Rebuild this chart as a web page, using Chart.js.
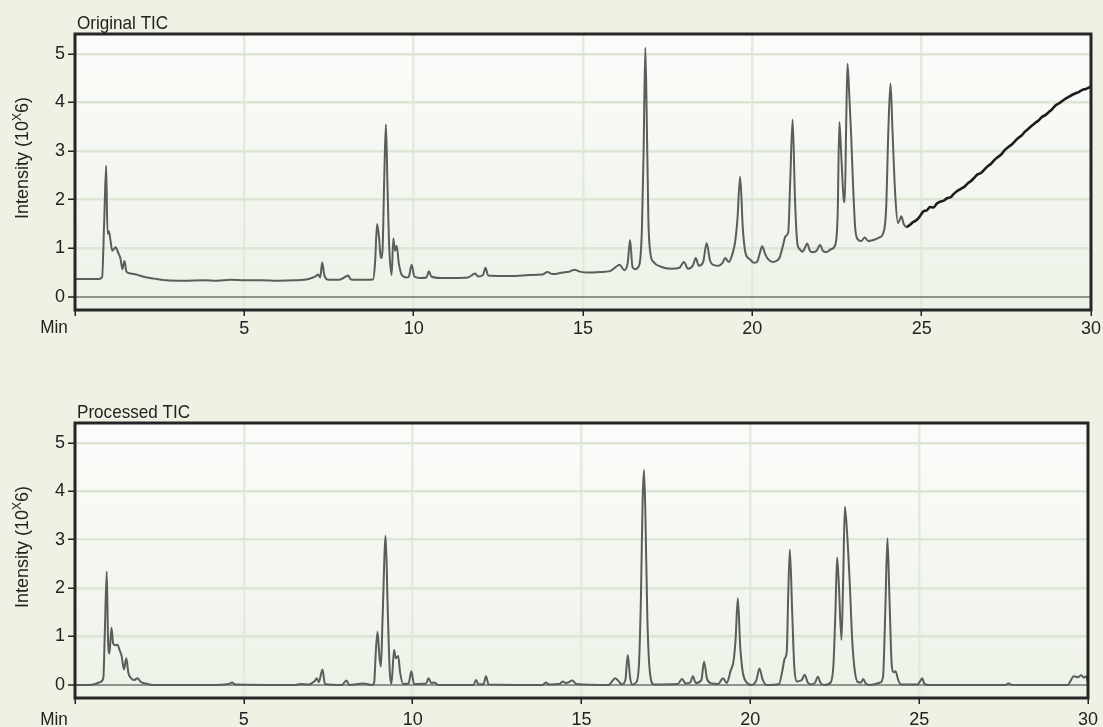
<!DOCTYPE html>
<html>
<head>
<meta charset="utf-8">
<script src="https://cdn.jsdelivr.net/npm/chart.js@4.4.1/dist/chart.umd.min.js"></script>
<style>
  html, body { margin: 0; padding: 0; background: #edf2e5; }
  body { width: 1103px; height: 727px; position: relative; overflow: hidden; }
  canvas { position: absolute; left: 0; display: block; }
  #orig { top: 0; }
  #proc { top: 390px; }
</style>
</head>
<body>
<canvas id="orig" width="1103" height="360"></canvas>
<canvas id="proc" width="1103" height="337"></canvas>
<script>
// Retention time (min) and total ion current (x10^6) of the raw run
const origTimes = [
  0.00, 0.40, 0.70, 0.80, 0.86, 0.92, 0.96, 1.00, 1.04, 1.10, 1.20, 1.28, 1.34, 1.40, 1.46, 1.52,
  1.65, 1.80, 2.00, 2.30, 2.70, 3.20, 3.80, 4.20, 4.60, 5.00, 5.50, 6.00, 6.50, 6.90, 7.10, 7.18,
  7.24, 7.30, 7.36, 7.45, 7.80, 8.00, 8.06, 8.15, 8.50, 8.80, 8.86, 8.92, 8.98, 9.03, 9.08, 9.13,
  9.18, 9.23, 9.28, 9.35, 9.40, 9.45, 9.50, 9.56, 9.65, 9.80, 9.86, 9.94, 10.02, 10.20, 10.38, 10.45,
  10.52, 10.80, 11.20, 11.60, 11.82, 11.90, 12.05, 12.12, 12.20, 12.60, 13.00, 13.40, 13.80, 13.95, 14.10, 14.40,
  14.60, 14.75, 14.90, 15.20, 15.50, 15.80, 16.00, 16.08, 16.22, 16.32, 16.39, 16.46, 16.54, 16.66, 16.74, 16.79,
  16.84, 16.88, 16.93, 16.99, 17.08, 17.30, 17.60, 17.85, 17.98, 18.10, 18.25, 18.33, 18.42, 18.55, 18.65, 18.75,
  18.85, 19.00, 19.12, 19.20, 19.30, 19.42, 19.50, 19.56, 19.64, 19.72, 19.80, 19.92, 20.05, 20.14, 20.22, 20.29,
  20.38, 20.46, 20.60, 20.80, 20.92, 20.98, 21.06, 21.12, 21.19, 21.26, 21.33, 21.40, 21.48, 21.56, 21.62, 21.70,
  21.78, 21.90, 22.00, 22.08, 22.18, 22.32, 22.45, 22.52, 22.57, 22.62, 22.70, 22.73, 22.77, 22.81, 22.86, 22.92,
  22.98, 23.04, 23.12, 23.22, 23.32, 23.42, 23.52, 23.62, 23.74, 23.86, 23.95, 24.02, 24.08, 24.14, 24.22, 24.30,
  24.36, 24.40, 24.47, 24.55, 24.65, 24.75, 24.85, 24.95, 25.05, 25.15, 25.25, 25.35, 25.45, 25.55, 25.65, 25.75,
  25.85, 25.95, 26.05, 26.15, 26.25, 26.35, 26.45, 26.55, 26.65, 26.75, 26.85, 26.95, 27.05, 27.15, 27.25, 27.35,
  27.45, 27.55, 27.65, 27.75, 27.85, 27.95, 28.05, 28.15, 28.25, 28.35, 28.45, 28.55, 28.65, 28.75, 28.85, 28.95,
  29.05, 29.15, 29.25, 29.35, 29.45, 29.55, 29.65, 29.75, 29.85, 29.95, 30.00
];
const origIntensity = [
  0.37, 0.37, 0.37, 0.40, 1.50, 2.70, 1.30, 1.35, 1.20, 0.95, 1.02, 0.90, 0.80, 0.57, 0.74, 0.52,
  0.48, 0.46, 0.42, 0.38, 0.34, 0.33, 0.34, 0.33, 0.35, 0.34, 0.34, 0.33, 0.34, 0.37, 0.42, 0.46,
  0.40, 0.71, 0.45, 0.36, 0.35, 0.42, 0.44, 0.36, 0.35, 0.36, 0.70, 1.50, 1.20, 0.80, 0.95, 2.40,
  3.55, 2.20, 1.00, 0.45, 1.20, 0.95, 1.05, 0.70, 0.45, 0.40, 0.42, 0.66, 0.42, 0.39, 0.40, 0.53,
  0.42, 0.39, 0.39, 0.40, 0.48, 0.42, 0.45, 0.60, 0.44, 0.43, 0.43, 0.45, 0.46, 0.51, 0.47, 0.50,
  0.52, 0.56, 0.52, 0.50, 0.51, 0.53, 0.63, 0.66, 0.55, 0.70, 1.17, 0.62, 0.57, 0.65, 1.40, 3.00,
  5.13, 3.80, 1.60, 0.90, 0.72, 0.62, 0.58, 0.60, 0.72, 0.58, 0.65, 0.80, 0.64, 0.72, 1.11, 0.75,
  0.66, 0.64, 0.70, 0.80, 0.72, 0.90, 1.17, 1.60, 2.47, 1.40, 0.90, 0.78, 0.70, 0.72, 0.90, 1.04,
  0.88, 0.78, 0.72, 0.80, 1.10, 1.25, 1.33, 2.40, 3.65, 2.00, 1.10, 0.98, 0.93, 1.02, 1.10, 0.95,
  0.92, 0.95, 1.07, 0.95, 0.92, 0.98, 1.07, 1.70, 3.60, 3.00, 2.00, 1.95, 3.50, 4.80, 4.20, 3.30,
  2.20, 1.40, 1.18, 1.15, 1.22, 1.15, 1.16, 1.18, 1.22, 1.30, 1.80, 3.50, 4.39, 3.40, 2.10, 1.52,
  1.60, 1.66, 1.50, 1.44, 1.48, 1.54, 1.58, 1.66, 1.76, 1.78, 1.85, 1.84, 1.92, 1.96, 1.98, 2.03,
  2.05, 2.12, 2.18, 2.22, 2.26, 2.33, 2.38, 2.45, 2.52, 2.55, 2.62, 2.69, 2.74, 2.82, 2.88, 2.93,
  3.02, 3.08, 3.13, 3.20, 3.27, 3.32, 3.40, 3.46, 3.52, 3.58, 3.63, 3.70, 3.74, 3.80, 3.86, 3.94,
  3.98, 4.03, 4.08, 4.12, 4.16, 4.19, 4.22, 4.26, 4.28, 4.31, 4.33
];

// Same run after baseline correction and noise removal
const procTimes = [
  0.00, 0.40, 0.60, 0.75, 0.84, 0.88, 0.94, 0.98, 1.02, 1.08, 1.13, 1.20, 1.26, 1.32, 1.38, 1.45,
  1.52, 1.58, 1.66, 1.75, 1.85, 1.95, 2.10, 2.30, 4.00, 4.55, 4.65, 4.75, 6.50, 6.70, 6.90, 7.10,
  7.16, 7.22, 7.33, 7.40, 7.90, 8.04, 8.12, 8.54, 8.80, 8.86, 8.91, 8.96, 9.02, 9.06, 9.11, 9.20,
  9.26, 9.32, 9.37, 9.45, 9.50, 9.57, 9.63, 9.72, 9.88, 9.96, 10.04, 10.40, 10.47, 10.55, 10.65, 10.75,
  11.80, 11.88, 11.95, 12.10, 12.17, 12.25, 13.85, 13.94, 14.05, 14.35, 14.44, 14.55, 14.73, 14.85, 15.80, 16.00,
  16.12, 16.20, 16.30, 16.37, 16.44, 16.50, 16.62, 16.70, 16.76, 16.81, 16.85, 16.89, 16.95, 17.02, 17.14, 17.85,
  17.98, 18.08, 18.22, 18.30, 18.38, 18.55, 18.63, 18.72, 18.86, 19.05, 19.19, 19.30, 19.42, 19.50, 19.56, 19.63,
  19.70, 19.78, 19.88, 20.04, 20.18, 20.27, 20.36, 20.48, 20.85, 20.95, 21.02, 21.08, 21.12, 21.17, 21.24, 21.30,
  21.37, 21.52, 21.61, 21.70, 21.81, 21.92, 22.00, 22.08, 22.20, 22.38, 22.46, 22.52, 22.57, 22.62, 22.70, 22.75,
  22.80, 22.86, 22.94, 23.02, 23.09, 23.18, 23.28, 23.34, 23.42, 23.55, 23.85, 23.93, 24.00, 24.06, 24.12, 24.19,
  24.25, 24.30, 24.38, 24.47, 24.95, 25.05, 25.09, 25.15, 25.25, 27.55, 27.66, 27.75, 29.40, 29.48, 29.58, 29.70,
  29.80, 29.88, 29.95, 30.00
];
const procIntensity = [
  0.00, 0.00, 0.02, 0.06, 0.15, 1.00, 2.34, 0.90, 0.65, 1.18, 0.86, 0.82, 0.83, 0.72, 0.60, 0.32,
  0.55, 0.25, 0.14, 0.10, 0.14, 0.06, 0.03, 0.00, 0.00, 0.02, 0.05, 0.01, 0.00, 0.02, 0.01, 0.08,
  0.14, 0.06, 0.32, 0.02, 0.00, 0.09, 0.00, 0.03, 0.00, 0.05, 0.70, 1.10, 0.55, 0.38, 1.40, 3.08,
  1.60, 0.30, 0.02, 0.72, 0.55, 0.60, 0.25, 0.02, 0.03, 0.28, 0.02, 0.03, 0.14, 0.04, 0.05, 0.00,
  0.00, 0.10, 0.01, 0.02, 0.18, 0.01, 0.00, 0.05, 0.01, 0.02, 0.07, 0.04, 0.09, 0.02, 0.00, 0.14,
  0.06, 0.01, 0.10, 0.62, 0.15, 0.01, 0.05, 0.40, 1.80, 3.80, 4.44, 3.60, 1.40, 0.30, 0.01, 0.02,
  0.12, 0.03, 0.05, 0.18, 0.04, 0.10, 0.48, 0.12, 0.03, 0.02, 0.14, 0.04, 0.30, 0.48, 0.90, 1.79,
  0.80, 0.25, 0.06, 0.00, 0.10, 0.34, 0.12, 0.00, 0.02, 0.30, 0.55, 0.70, 1.80, 2.79, 1.50, 0.40,
  0.07, 0.10, 0.21, 0.05, 0.01, 0.05, 0.17, 0.04, 0.00, 0.05, 0.40, 1.50, 2.63, 2.10, 0.93, 2.20,
  3.68, 3.20, 2.17, 0.90, 0.31, 0.06, 0.05, 0.12, 0.03, 0.00, 0.05, 0.17, 1.60, 3.03, 1.80, 0.40,
  0.26, 0.28, 0.10, 0.01, 0.01, 0.10, 0.14, 0.03, 0.00, 0.00, 0.03, 0.00, 0.00, 0.08, 0.18, 0.16,
  0.20, 0.15, 0.18, 0.05
];

const xTickValues = [0, 5, 10, 15, 20, 25, 30];
const yTickValues = [0, 1, 2, 3, 4, 5];
const panelTitles = ['Original TIC', 'Processed TIC'];
const yAxisLabel = ['Intensity (10', 'X', '6)'];
const xUnitLabel = 'Min';

const FONT = "'Liberation Sans', Arial, sans-serif";
const INK = '#222';
const TRACE = '#5a5d59';
const RAMP_START = 24.55;
const NARROW = 0.9; // horizontal squeeze for the condensed label lettering

function toPoints(xs, ys) {
  return xs.map((x, i) => ({ x: x, y: ys[i] }));
}

// Plot background, frame and panel labels
const panelDecor = {
  id: 'panelDecor',
  beforeDraw(chart) {
    const { ctx, chartArea: a } = chart;
    const g = ctx.createLinearGradient(0, a.top, 0, a.bottom);
    g.addColorStop(0, '#fbfcfa');
    g.addColorStop(1, '#edf2e8');
    ctx.save();
    ctx.fillStyle = g;
    ctx.fillRect(a.left, a.top, a.right - a.left, a.bottom - a.top);
    ctx.restore();
  },
  afterDraw(chart, args, opts) {
    const { ctx, chartArea: a } = chart;
    ctx.save();
    // frame
    ctx.strokeStyle = '#262626';
    ctx.lineWidth = 3;
    ctx.strokeRect(a.left, a.top, a.right - a.left, a.bottom - a.top);
    ctx.restore();

    // panel title
    ctx.save();
    ctx.fillStyle = INK;
    ctx.font = '19px ' + FONT;
    ctx.textAlign = 'left';
    ctx.textBaseline = 'alphabetic';
    ctx.translate(a.left + 2, a.top - 5);
    ctx.scale(NARROW, 1);
    ctx.fillText(opts.title, 0, 0);
    ctx.restore();

    // unit label under the axis start
    ctx.save();
    ctx.fillStyle = INK;
    ctx.font = '19px ' + FONT;
    ctx.textAlign = 'center';
    ctx.translate(54, a.bottom + opts.unitDrop);
    ctx.scale(NARROW, 1);
    ctx.fillText(xUnitLabel, 0, 0);
    ctx.restore();

    // rotated y-axis title with superscript
    ctx.save();
    ctx.fillStyle = INK;
    ctx.translate(23, a.top + 124);
    ctx.rotate(-Math.PI / 2);
    ctx.textBaseline = 'middle';
    ctx.font = '18px ' + FONT;
    const w0 = ctx.measureText(yAxisLabel[0]).width;
    ctx.font = '12px ' + FONT;
    const w1 = ctx.measureText(yAxisLabel[1]).width;
    ctx.font = '18px ' + FONT;
    const w2 = ctx.measureText(yAxisLabel[2]).width;
    let x = -(w0 + w1 + w2) / 2;
    ctx.textAlign = 'left';
    ctx.fillText(yAxisLabel[0], x, 0);
    x += w0;
    ctx.font = '12px ' + FONT;
    ctx.fillText(yAxisLabel[1], x, -5);
    x += w1;
    ctx.font = '18px ' + FONT;
    ctx.fillText(yAxisLabel[2], x, 0);
    ctx.restore();
  }
};

function makeChart(canvasId, points, title, opts) {
  return new Chart(document.getElementById(canvasId), {
    type: 'line',
    data: {
      datasets: [{
        data: points,
        borderColor: TRACE,
        borderWidth: 2,
        pointRadius: 0,
        cubicInterpolationMode: 'monotone',
        segment: opts.segment || {}
      }]
    },
    options: {
      responsive: false,
      animation: false,
      events: [],
      layout: { padding: { top: opts.padTop, right: 11, left: 0, bottom: 0 } },
      plugins: {
        legend: { display: false },
        tooltip: { enabled: false },
        panelDecor: { title: title, unitDrop: opts.unitDrop }
      },
      scales: {
        x: {
          type: 'linear',
          min: 0,
          max: 30,
          afterBuildTicks: s => { s.ticks = xTickValues.map(v => ({ value: v })); },
          afterFit: s => { s.height = opts.xAxisHeight; },
          grid: {
            color: '#e4eadd',
            lineWidth: 2.5,
            tickColor: INK,
            tickWidth: 1.5,
            tickLength: 6
          },
          border: { display: false },
          ticks: {
            color: INK,
            font: { family: FONT, size: 18 },
            padding: opts.xTickPad,
            maxRotation: 0,
            callback: v => (v === 0 ? '' : String(v))
          }
        },
        y: {
          min: -0.27,
          max: 5.41,
          afterBuildTicks: s => { s.ticks = yTickValues.map(v => ({ value: v })); },
          afterFit: s => { s.width = 75; },
          grid: {
            color: c => (c.tick && c.tick.value === 0 ? '#8f958c' : '#dde5d4'),
            lineWidth: c => (c.tick && c.tick.value === 0 ? 2 : 2.5),
            tickColor: INK,
            tickWidth: 1.5,
            tickLength: 7
          },
          border: { display: false },
          ticks: {
            color: INK,
            font: { family: FONT, size: 18 },
            padding: 3
          }
        }
      }
    },
    plugins: [panelDecor]
  });
}

makeChart('orig', toPoints(origTimes, origIntensity), panelTitles[0], {
  padTop: 34, xAxisHeight: 50, xTickPad: 2, unitDrop: 23,
  segment: {
    borderColor: c => (c.p0.parsed.x >= RAMP_START ? '#1c1c1c' : TRACE),
    borderWidth: c => (c.p0.parsed.x >= RAMP_START ? 2.6 : 2)
  }
});

makeChart('proc', toPoints(procTimes, procIntensity), panelTitles[1], {
  padTop: 33, xAxisHeight: 29, xTickPad: 5, unitDrop: 27
});
</script>
</body>
</html>
